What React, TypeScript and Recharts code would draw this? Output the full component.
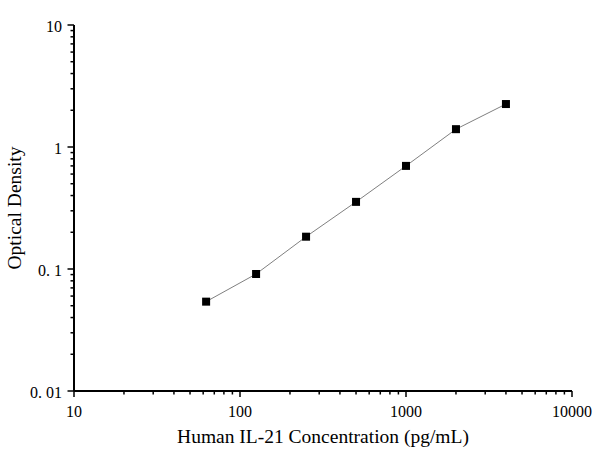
import React from 'react';
import { LineChart, Line, XAxis, YAxis, Label } from 'recharts';

// standard curve: concentration (pg/mL) vs optical density
const concentrations = [62.5, 125, 250, 500, 1000, 2000, 4000];
const odValues = [0.054, 0.091, 0.184, 0.355, 0.7, 1.4, 2.25];

const xMajorTicks = [10, 100, 1000, 10000];
const xMinorTicks = [
  20, 30, 40, 50, 60, 70, 80, 90,
  200, 300, 400, 500, 600, 700, 800, 900,
  2000, 3000, 4000, 5000, 6000, 7000, 8000, 9000,
];
const xTickLabels = ['10', '100', '1000', '10000'];

const yMajorTicks = [0.01, 0.1, 1, 10];
const yMinorTicks = [
  0.02, 0.03, 0.04, 0.05, 0.06, 0.07, 0.08, 0.09,
  0.2, 0.3, 0.4, 0.5, 0.6, 0.7, 0.8, 0.9,
  2, 3, 4, 5, 6, 7, 8, 9,
];
const yTickLabels = ['0. 01', '0. 1', '1', '10'];

const data = concentrations.map((c, i) => ({ conc: c, od: odValues[i] }));

const FONT = '"Liberation Serif", "Times New Roman", serif';

const XTick = (props: any) => {
  const { x, y, payload } = props;
  const idx = xMajorTicks.indexOf(payload.value);
  const major = idx >= 0;
  return (
    <g>
      <line x1={x} x2={x} y1={y} y2={y + (major ? 6 : 3.5)} stroke="#000" strokeWidth={1.5} />
      {major && (
        <text x={x} y={y + 26} textAnchor="middle" fontSize={16} fontFamily={FONT} fill="#000">
          {xTickLabels[idx]}
        </text>
      )}
    </g>
  );
};

const YTick = (props: any) => {
  const { x, y, payload } = props;
  const idx = yMajorTicks.indexOf(payload.value);
  const major = idx >= 0;
  return (
    <g>
      <line x1={x} x2={x - (major ? 6.5 : 3.5)} y1={y} y2={y} stroke="#000" strokeWidth={1.5} />
      {major && (
        <text x={x - 12} y={y + 6.5} textAnchor="end" fontSize={16} fontFamily={FONT} fill="#000">
          {yTickLabels[idx]}
        </text>
      )}
    </g>
  );
};

const SquareDot = (props: any) => {
  const { cx, cy, index } = props;
  return <rect key={`dot-${index}`} x={cx - 4} y={cy - 4} width={8} height={8} fill="#000" />;
};

export default function App() {
  return (
    <div style={{ position: 'absolute', left: 0, top: 0, width: 600, height: 460, background: '#fff' }}>
      <LineChart width={600} height={460} data={data} margin={{ top: 25, right: 28, left: 0, bottom: 0 }}>
        <XAxis
          dataKey="conc"
          type="number"
          scale="log"
          domain={[10, 10000]}
          ticks={[...xMajorTicks, ...xMinorTicks]}
          interval={0}
          allowDataOverflow
          height={69}
          tickSize={0}
          tickMargin={0}
          tickLine={false}
          axisLine={{ stroke: '#000', strokeWidth: 2 }}
          tick={<XTick />}
        >
          <Label
            content={(p: any) => (
              <text
                x={p.viewBox.x + p.viewBox.width / 2}
                y={p.viewBox.y + 52}
                textAnchor="middle"
                fontSize={19.5}
                fontFamily={FONT}
                fill="#000"
              >
                Human IL-21 Concentration (pg/mL)
              </text>
            )}
          />
        </XAxis>
        <YAxis
          dataKey="od"
          type="number"
          scale="log"
          domain={[0.01, 10]}
          ticks={[...yMajorTicks, ...yMinorTicks]}
          interval={0}
          allowDataOverflow
          width={74}
          tickSize={0}
          tickMargin={0}
          tickLine={false}
          axisLine={{ stroke: '#000', strokeWidth: 2 }}
          tick={<YTick />}
        >
          <Label
            content={(p: any) => {
              const cx = 21;
              const cy = p.viewBox.y + p.viewBox.height / 2;
              return (
                <text
                  x={cx}
                  y={cy}
                  transform={`rotate(-90, ${cx}, ${cy})`}
                  textAnchor="middle"
                  fontSize={19.5}
                  fontFamily={FONT}
                  fill="#000"
                >
                  Optical Density
                </text>
              );
            }}
          />
        </YAxis>
        <Line
          dataKey="od"
          type="linear"
          stroke="#808080"
          strokeWidth={1}
          dot={SquareDot}
          activeDot={false}
          isAnimationActive={false}
        />
      </LineChart>
    </div>
  );
}
